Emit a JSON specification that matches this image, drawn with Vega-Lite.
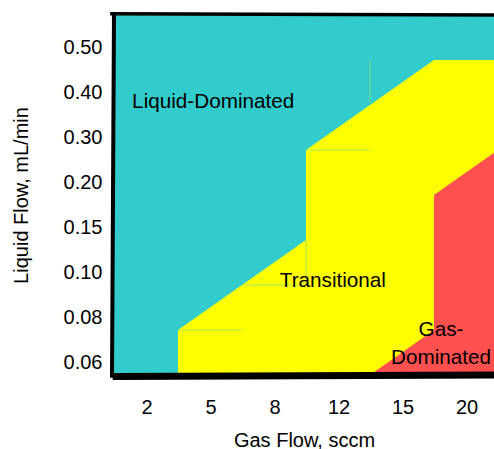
{
  "$schema": "https://vega.github.io/schema/vega-lite/v6.json",
  "width": 380,
  "height": 360,
  "autosize": {"type": "none"},
  "padding": {"left": 114, "top": 15, "right": 0, "bottom": 74},
  "background": "white",
  "config": {
    "font": "Liberation Sans",
    "view": {"stroke": null},
    "axis": {"grid": false, "ticks": false, "domain": false, "labelColor": "#000", "titleColor": "#000", "titleFontWeight": "normal"}
  },
  "datasets": {
    "regions": [
      {"regime": "Liquid-Dominated", "k": 1, "gas": -0.5, "top": 7.5, "bottom": -0.5},
      {"regime": "Liquid-Dominated", "k": 2, "gas": 5.5, "top": 7.5, "bottom": -0.5},
      {"regime": "Transitional", "k": 1, "gas": 0.5, "top": -0.5, "bottom": -0.5},
      {"regime": "Transitional", "k": 2, "gas": 0.5, "top": 0.5, "bottom": -0.5},
      {"regime": "Transitional", "k": 3, "gas": 2.5, "top": 2.5, "bottom": -0.5},
      {"regime": "Transitional", "k": 4, "gas": 2.5, "top": 4.5, "bottom": -0.5},
      {"regime": "Transitional", "k": 5, "gas": 4.5, "top": 6.5, "bottom": -0.5},
      {"regime": "Transitional", "k": 6, "gas": 5.5, "top": 6.5, "bottom": -0.5},
      {"regime": "Gas-Dominated", "k": 1, "gas": 3.5, "top": -0.5, "bottom": -0.5},
      {"regime": "Gas-Dominated", "k": 2, "gas": 4.5, "top": 0.5, "bottom": -0.5},
      {"regime": "Gas-Dominated", "k": 3, "gas": 4.5, "top": 3.5, "bottom": -0.5},
      {"regime": "Gas-Dominated", "k": 4, "gas": 5.5, "top": 4.5, "bottom": -0.5}
    ],
    "seams": [
      {"zone": "teal", "gx": 3.5, "gx2": 3.5, "ly": 6.5, "ly2": 5.55},
      {"zone": "yellow", "gx": 2.5, "gx2": 3.5, "ly": 4.5, "ly2": 4.5},
      {"zone": "yellow", "gx": 2.5, "gx2": 2.5, "ly": 2.5, "ly2": 1.5},
      {"zone": "yellow", "gx": 1.5, "gx2": 2.5, "ly": 1.5, "ly2": 1.5},
      {"zone": "yellow", "gx": 0.5, "gx2": 1.5, "ly": 0.5, "ly2": 0.5}
    ],
    "labels": [
      {"label": "Liquid-Dominated", "gas": 1.05, "liq": 5.57},
      {"label": "Transitional", "gas": 2.92, "liq": 1.6},
      {"label": "Gas-\nDominated", "gas": 4.61, "liq": 0.5}
    ],
    "frame": [
      {"edge": "top", "gx": -0.56, "gx2": 5.5, "ly": 7.5, "ly2": 7.5},
      {"edge": "left", "gx": -0.5, "gx2": -0.5, "ly": -0.56, "ly2": 7.56},
      {"edge": "bottom", "gx": -0.52, "gx2": 5.5, "ly": -0.5, "ly2": -0.5}
    ]
  },
  "layer": [
    {
      "data": {"name": "regions"},
      "transform": [{"filter": "datum.regime == 'Liquid-Dominated'"}],
      "mark": {"type": "area", "interpolate": "linear", "color": "#33CCCC"},
      "encoding": {
        "x": {"field": "gas", "type": "quantitative", "scale": {"domain": [-0.5, 5.4375], "nice": false, "zero": false},
          "axis": {"values": [0, 1, 2, 3, 4, 5], "labelExpr": "['2','5','8','12','15','20'][datum.value]", "labelFontSize": 20, "labelPadding": 22, "labelOffset": 0.5, "title": "Gas Flow, sccm", "titleFontSize": 20, "titlePadding": 13}},
        "y": {"field": "top", "type": "quantitative", "scale": {"domain": [-0.5, 7.5], "nice": false, "zero": false},
          "axis": {"values": [0, 1, 2, 3, 4, 5, 6, 7], "labelExpr": "['0.06','0.08','0.10','0.15','0.20','0.30','0.40','0.50'][datum.value]", "labelFontSize": 20, "labelPadding": 12, "labelOffset": 10, "title": "Liquid Flow, mL/min", "titleFontSize": 20, "titlePadding": 32}},
        "y2": {"field": "bottom"}
      }
    },
    {
      "data": {"name": "regions"},
      "transform": [{"filter": "datum.regime == 'Transitional'"}],
      "mark": {"type": "area", "interpolate": "linear", "color": "#FFFF00"},
      "encoding": {
        "x": {"field": "gas", "type": "quantitative"},
        "y": {"field": "top", "type": "quantitative"},
        "y2": {"field": "bottom"}
      }
    },
    {
      "data": {"name": "regions"},
      "transform": [{"filter": "datum.regime == 'Gas-Dominated'"}],
      "mark": {"type": "area", "interpolate": "linear", "color": "#FF5050"},
      "encoding": {
        "x": {"field": "gas", "type": "quantitative"},
        "y": {"field": "top", "type": "quantitative"},
        "y2": {"field": "bottom"}
      }
    },
    {
      "data": {"name": "seams"},
      "transform": [{"filter": "datum.zone == 'yellow'"}],
      "mark": {"type": "rule", "color": "#33CCCC", "strokeWidth": 1, "opacity": 0.45},
      "encoding": {
        "x": {"field": "gx", "type": "quantitative"},
        "x2": {"field": "gx2"},
        "y": {"field": "ly", "type": "quantitative"},
        "y2": {"field": "ly2"}
      }
    },
    {
      "data": {"name": "seams"},
      "transform": [{"filter": "datum.zone == 'teal'"}],
      "mark": {"type": "rule", "color": "#FFFF00", "strokeWidth": 1, "opacity": 0.35},
      "encoding": {
        "x": {"field": "gx", "type": "quantitative"},
        "x2": {"field": "gx2"},
        "y": {"field": "ly", "type": "quantitative"},
        "y2": {"field": "ly2"}
      }
    },
    {
      "data": {"name": "labels"},
      "mark": {"type": "text", "fontSize": 20.7, "color": "#000", "align": "center", "baseline": "middle", "lineBreak": "\n", "lineHeight": 27.5},
      "encoding": {
        "x": {"field": "gas", "type": "quantitative"},
        "y": {"field": "liq", "type": "quantitative"},
        "text": {"field": "label", "type": "nominal"}
      }
    },
    {
      "data": {"name": "frame"},
      "transform": [{"filter": "datum.edge == 'top'"}],
      "mark": {"type": "rule", "color": "black", "strokeWidth": 3.5, "yOffset": -1.25},
      "encoding": {
        "x": {"field": "gx", "type": "quantitative"},
        "x2": {"field": "gx2"},
        "y": {"field": "ly", "type": "quantitative"},
        "y2": {"field": "ly2"}
      }
    },
    {
      "data": {"name": "frame"},
      "transform": [{"filter": "datum.edge == 'left'"}],
      "mark": {"type": "rule", "color": "black", "strokeWidth": 4, "xOffset": -2},
      "encoding": {
        "x": {"field": "gx", "type": "quantitative"},
        "x2": {"field": "gx2"},
        "y": {"field": "ly", "type": "quantitative"},
        "y2": {"field": "ly2"}
      }
    },
    {
      "data": {"name": "frame"},
      "transform": [{"filter": "datum.edge == 'bottom'"}],
      "mark": {"type": "rule", "color": "black", "strokeWidth": 7, "yOffset": 1.5},
      "encoding": {
        "x": {"field": "gx", "type": "quantitative"},
        "x2": {"field": "gx2"},
        "y": {"field": "ly", "type": "quantitative"},
        "y2": {"field": "ly2"}
      }
    }
  ]
}
